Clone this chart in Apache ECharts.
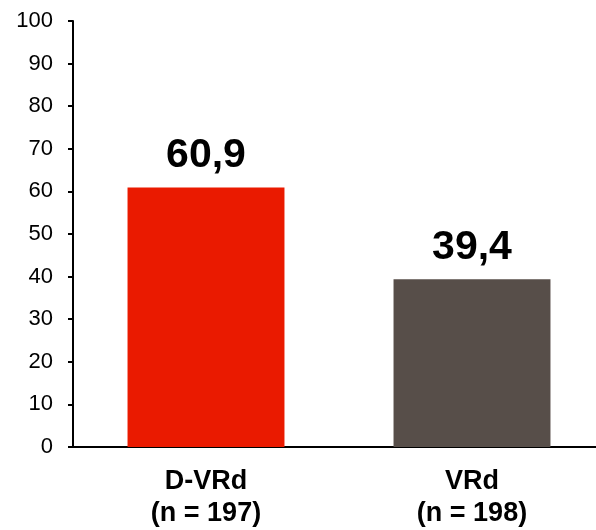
<!DOCTYPE html>
<html>
<head>
<meta charset="utf-8">
<script src="https://cdn.jsdelivr.net/npm/echarts@6/dist/echarts.min.js"></script>
<style>
  html, body { margin: 0; padding: 0; background: #fff; }
  #chart { width: 596px; height: 530px; }
</style>
</head>
<body>
<div id="chart"></div>
<script>
// Response rates by treatment arm
const categories = ['D-VRd\n(n = 197)', 'VRd\n(n = 198)'];
const values = [60.9, 39.4];
const barColors = ['#EA1A00', '#574E49'];
const yTicks = { min: 0, max: 100, interval: 10 };

const chart = echarts.init(document.getElementById('chart'));
const font = 'Liberation Sans, Arial, sans-serif';

chart.setOption({
  animation: false,
  backgroundColor: '#ffffff',
  // plot area runs slightly past the right edge of the canvas
  grid: { left: 73, top: 21, right: -9, bottom: 83, containLabel: false, outerBoundsMode: 'none' },
  xAxis: {
    type: 'category',
    data: categories,
    axisLine: { lineStyle: { color: '#000', width: 2 } },
    axisTick: { show: false },
    axisLabel: {
      color: '#000',
      fontFamily: font,
      fontWeight: 'bold',
      fontSize: 27,
      lineHeight: 32,
      margin: 19
    }
  },
  yAxis: {
    type: 'value',
    min: yTicks.min,
    max: yTicks.max,
    interval: yTicks.interval,
    splitLine: { show: false },
    axisLine: { show: true, lineStyle: { color: '#000', width: 2 } },
    axisTick: { show: true, length: 5, lineStyle: { color: '#000', width: 2 } },
    axisLabel: { color: '#000', fontFamily: font, fontSize: 22, margin: 20 }
  },
  series: [{
    type: 'bar',
    barWidth: '59%',
    data: values.map((v, i) => ({ value: v, itemStyle: { color: barColors[i] } })),
    label: {
      show: true,
      position: 'top',
      distance: 11,
      color: '#000',
      fontFamily: font,
      fontWeight: 'bold',
      fontSize: 41,
      formatter: p => String(p.value).replace('.', ',')
    }
  }]
});
</script>
</body>
</html>
